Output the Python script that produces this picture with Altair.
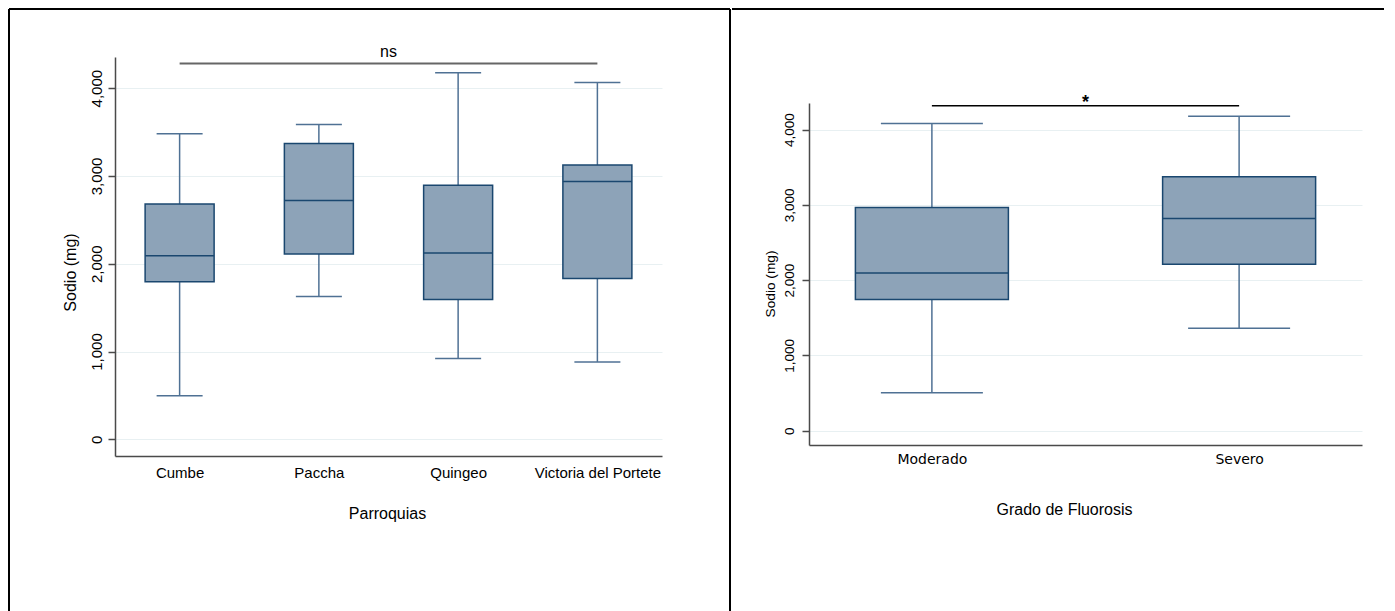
import altair as alt
import pandas as pd

# ---------------- data ----------------
parroquias = ["Cumbe", "Paccha", "Quingeo", "Victoria del Portete"]
par_low = [497, 1627, 920, 882]
par_q1 = [1795, 2111, 1593, 1833]
par_med = [2091, 2719, 2122, 2936]
par_q3 = [2681, 3369, 2894, 3126]
par_high = [3480, 3586, 4176, 4065]

grados = ["Moderado", "Severo"]
gr_low = [504, 1362]
gr_q1 = [1743, 2211]
gr_med = [2095, 2821]
gr_q3 = [2967, 3374]
gr_high = [4081, 4178]

y_ticks = [0, 1000, 2000, 3000, 4000]
y_domain = [-190, 4355]

left_sig_from, left_sig_to = ["Cumbe"], ["Victoria del Portete"]
left_sig_level, left_sig_text, left_sig_text_level = [4282], ["ns"], [4358]
right_sig_from, right_sig_to = ["Moderado"], ["Severo"]
right_sig_level, right_sig_text, right_sig_text_level = [4320], ["*"], [4284]

BOX_FILL = "#8DA3B8"
BOX_LINE = "#1a476f"
WHISK = "#4f7194"
AXIS_C = "#4a4a4a"
GRID_C = "#e8f0f2"


def border(x, x2, y, y2):
    enc = dict(x=alt.value(x), y=alt.value(y))
    if x2 is not None:
        enc["x2"] = alt.value(x2)
    if y2 is not None:
        enc["y2"] = alt.value(y2)
    return alt.Chart(alt.Data(values=[{}])).mark_rule(
        color="black", strokeWidth=2
    ).encode(**enc)


def panel(cats, low, q1, med, q3, high, *, width, height, y_range, pad, box_w, cap_w,
          x_title, x_lab_font, x_lab_size, x_lab_pad, x_title_size, x_title_x, x_title_y,
          y_lab_size, y_lab_pad, y_title_size, y_title_x, y_title_y,
          sig, sig_color, sig_width, sig_text_size, sig_text_weight, borders):
    df = pd.DataFrame({"cat": cats, "low": low, "q1": q1, "med": med, "q3": q3, "high": high})

    xaxis = alt.Axis(
        title=x_title, labelAngle=0, ticks=False, tickSize=0, grid=False,
        domainColor=AXIS_C, domainWidth=1.5,
        labelFont=x_lab_font, labelFontSize=x_lab_size, labelColor="black",
        labelBaseline="alphabetic", labelPadding=x_lab_pad,
        titleFont="Liberation Sans", titleFontSize=x_title_size, titleFontWeight="normal",
        titleColor="black", titleX=x_title_x, titleY=x_title_y,
        titleBaseline="alphabetic", titleAlign="center",
    )
    yaxis = alt.Axis(
        title="Sodio (mg)", values=y_ticks, format=",d",
        labelAngle=270, labelAlign="center", labelBaseline="alphabetic",
        labelPadding=y_lab_pad, labelFont="Liberation Sans", labelFontSize=y_lab_size,
        labelColor="black", labelFlush=False, labelOverlap=False,
        tickSize=7, tickColor=AXIS_C, tickWidth=1.5,
        domainColor=AXIS_C, domainWidth=1.5,
        grid=True, gridColor=GRID_C, gridWidth=1,
        titleFont="Liberation Sans", titleFontSize=y_title_size, titleFontWeight="normal",
        titleColor="black", titleAngle=270, titleX=y_title_x, titleY=y_title_y,
        titleBaseline="alphabetic", titleAlign="center",
    )
    xs = alt.Scale(type="point", domain=cats, padding=pad)
    if y_range is None:
        ys = alt.Scale(domain=y_domain, nice=False, zero=False)
    else:
        ys = alt.Scale(domain=y_domain, nice=False, zero=False, range=y_range)

    def X():
        return alt.X("cat:N", scale=xs, axis=xaxis)

    def Y(f):
        return alt.Y(f"{f}:Q", scale=ys, axis=yaxis)

    base = alt.Chart(df)
    w_low = base.mark_rule(color=WHISK, strokeWidth=1.5).encode(x=X(), y=Y("low"), y2="q1:Q")
    w_high = base.mark_rule(color=WHISK, strokeWidth=1.5).encode(x=X(), y=Y("q3"), y2="high:Q")
    cap_low = base.mark_tick(color=WHISK, thickness=1.5, size=cap_w, opacity=1).encode(x=X(), y=Y("low"))
    cap_high = base.mark_tick(color=WHISK, thickness=1.5, size=cap_w, opacity=1).encode(x=X(), y=Y("high"))
    box = base.mark_bar(size=box_w, fill=BOX_FILL, stroke=BOX_LINE, strokeWidth=1.5).encode(
        x=X(), y=Y("q1"), y2="q3:Q")
    median = base.mark_tick(color=BOX_LINE, thickness=1.5, size=box_w, opacity=1).encode(x=X(), y=Y("med"))

    sdf = pd.DataFrame(sig)
    sig_line = alt.Chart(sdf).mark_rule(color=sig_color, strokeWidth=sig_width).encode(
        x=alt.X("from:N", scale=xs, axis=xaxis), x2="to:N",
        y=alt.Y("level:Q", scale=ys, axis=yaxis))
    sig_txt = alt.Chart(sdf).mark_text(
        font="Liberation Sans", fontSize=sig_text_size, fontWeight=sig_text_weight, color="black",
        baseline="alphabetic", align="center").encode(
        x=alt.value(width / 2), y=alt.Y("text_level:Q", scale=ys, axis=yaxis), text="text:N")

    layers = [w_low, w_high, cap_low, cap_high, box, median, sig_line, sig_txt] + borders
    return alt.layer(*layers).properties(width=width, height=height)


left = panel(
    parroquias, par_low, par_q1, par_med, par_q3, par_high,
    width=547, height=399, y_range=None, pad=0.464, box_w=69, cap_w=46,
    x_title="Parroquias", x_lab_font="Liberation Sans", x_lab_size=15, x_lab_pad=21,
    x_title_size=16, x_title_x=272, x_title_y=62,
    y_lab_size=15, y_lab_pad=6.5, y_title_size=16, y_title_x=-39.5, y_title_y=215,
    sig={"from": left_sig_from, "to": left_sig_to, "level": left_sig_level,
         "text": left_sig_text, "text_level": left_sig_text_level},
    sig_color="#666666", sig_width=2, sig_text_size=16, sig_text_weight="normal",
    borders=[
        border(-106, 615, -48, None),   # top edge of left cell
        border(-106, None, -48, 560),   # left edge
        border(615, None, -48, 560),    # separator between cells
    ],
)

right = panel(
    grados, gr_low, gr_q1, gr_med, gr_q3, gr_high,
    width=553, height=388, y_range=[388, 46], pad=0.4, box_w=153, cap_w=102,
    x_title="Grado de Fluorosis", x_lab_font="DejaVu Sans", x_lab_size=14, x_lab_pad=18,
    x_title_size=16, x_title_x=255, x_title_y=69,
    y_lab_size=13.5, y_lab_pad=9, y_title_size=13.7, y_title_x=-35, y_title_y=226.5,
    sig={"from": right_sig_from, "to": right_sig_to, "level": right_sig_level,
         "text": right_sig_text, "text_level": right_sig_text_level},
    sig_color="black", sig_width=1.5, sig_text_size=18, sig_text_weight="bold",
    borders=[
        border(-77, 575, -48, None),    # top edge of right cell
    ],
)

chart = alt.hconcat(left, right, spacing=0).properties(padding=0).configure_view(stroke=None)

chart.save("out.html", embed_options={"renderer": "svg", "actions": False})
